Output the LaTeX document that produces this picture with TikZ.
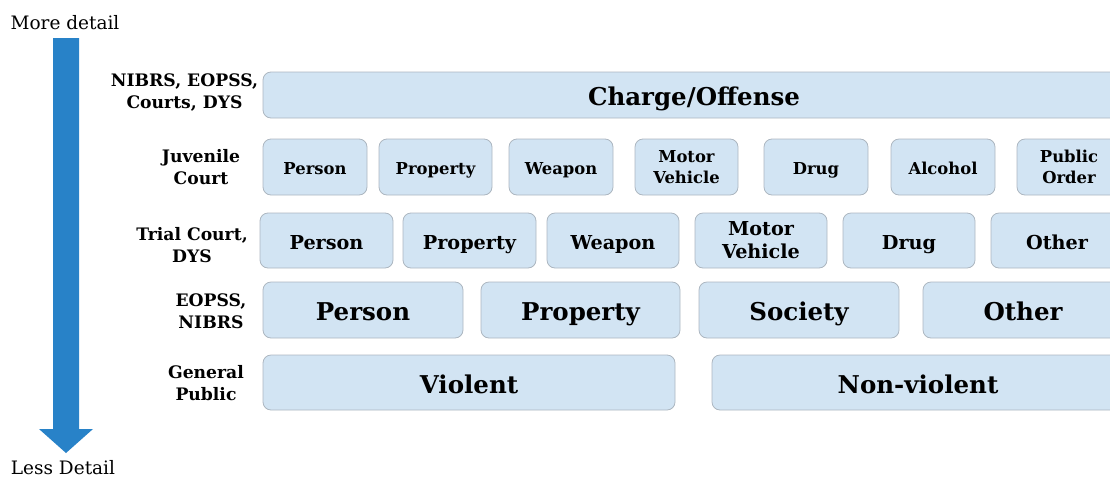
\documentclass[tikz,border=0pt]{standalone}
\usepackage{fontspec}
\setmainfont{DejaVu Serif}
\definecolor{boxfill}{RGB}{210,228,243}
\definecolor{boxline}{RGB}{172,182,192}
\definecolor{arrowblue}{RGB}{40,130,200}
\begin{document}
\begin{tikzpicture}[x=1pt,y=-1pt,
  box/.style={draw=boxline, fill=boxfill, rounded corners=8pt, line width=0.8pt, inner sep=0pt, align=center},
  rA/.style={box, minimum height=46, font=\bfseries\fontsize{24.5}{28}\selectfont},
  rB/.style={box, minimum height=56, font=\bfseries\fontsize{16.4}{21}\selectfont},
  rC/.style={box, minimum height=55, font=\bfseries\fontsize{19.2}{23}\selectfont},
  rD/.style={box, minimum height=56, font=\bfseries\fontsize{24.5}{28}\selectfont},
  rE/.style={box, minimum height=55, font=\bfseries\fontsize{24.5}{28}\selectfont},
  oneA/.style={text height=21.8pt, text depth=0pt},
  oneB/.style={text height=14.6pt, text depth=0pt},
  oneC/.style={text height=17.1pt, text depth=0pt},
  lbl/.style={align=center, inner sep=0pt, font=\bfseries\fontsize{17.2}{22}\selectfont},
  side/.style={inner sep=0pt, anchor=base, font=\fontsize{18.5}{22}\selectfont}]
\useasboundingbox (0,0) rectangle (1110,477);
\clip (0,0) rectangle (1110,477);

% detail arrow
\node[side] (more) at (65,29) {More detail};
\node[side] (less) at (63,474) {Less Detail};
\fill[arrowblue] (53,38) -- (79,38) -- (79,429) -- (93,429) -- (66,453) -- (39,429) -- (53,429) -- cycle;

% row labels
\node[lbl] (l1) at (184.5,93) {NIBRS, EOPSS,\\Courts, DYS};
\node[lbl] (l2) at (201,167.5) {Juvenile\\Court};
\node[lbl] (l3) at (192,245.5) {Trial Court,\\DYS};
\node[lbl] (l4) at (211,311) {EOPSS,\\NIBRS};
\node[lbl] (l5) at (206,383) {General\\Public};

% row 1
\node[rA, oneA, minimum width=862] (charge) at (694,95) {Charge/Offense};

% row 2
\node[rB, oneB, minimum width=104] (jPerson) at (315,167) {Person};
\node[rB, oneB, minimum width=113] (jProperty) at (435.5,167) {Property};
\node[rB, oneB, minimum width=104] (jWeapon) at (561,167) {Weapon};
\node[rB, minimum width=103] (jMotor) at (686.5,167) {Motor\\Vehicle};
\node[rB, oneB, minimum width=104] (jDrug) at (816,167) {Drug};
\node[rB, oneB, minimum width=104] (jAlcohol) at (943,167) {Alcohol};
\node[rB, minimum width=104] (jPublic) at (1069,167) {Public\\Order};

% row 3
\node[rC, oneC, minimum width=133] (tPerson) at (326.5,240.5) {Person};
\node[rC, oneC, minimum width=133] (tProperty) at (469.5,240.5) {Property};
\node[rC, oneC, minimum width=132] (tWeapon) at (613,240.5) {Weapon};
\node[rC, minimum width=132] (tMotor) at (761,240.5) {Motor\\Vehicle};
\node[rC, oneC, minimum width=132] (tDrug) at (909,240.5) {Drug};
\node[rC, oneC, minimum width=132] (tOther) at (1057,240.5) {Other};

% row 4
\node[rD, oneA, minimum width=200] (ePerson) at (363,310) {Person};
\node[rD, oneA, minimum width=199] (eProperty) at (580.5,310) {Property};
\node[rD, oneA, minimum width=200] (eSociety) at (799,310) {Society};
\node[rD, oneA, minimum width=200] (eOther) at (1023,310) {Other};

% row 5
\node[rE, oneA, minimum width=412] (violent) at (469,382.5) {Violent};
\node[rE, oneA, minimum width=412] (nonviolent) at (918,382.5) {Non-violent};
\end{tikzpicture}
\end{document}
